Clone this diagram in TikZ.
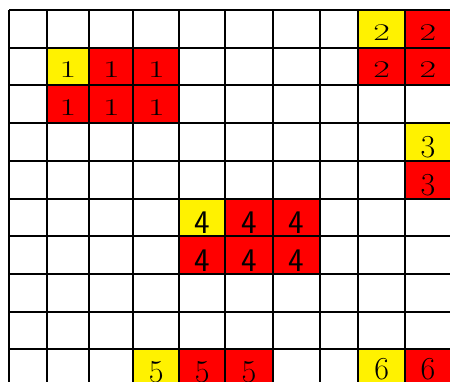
\documentclass[tikz,border=0pt]{standalone}
\usepackage{fontspec}
\usepackage{graphicx}
\usepackage{tikz}
\tikzset{
  cellY/.style={fill=yellow},
  cellR/.style={fill=red},
  gridline/.style={line width=2pt, black},
  numS/.style={anchor=base, inner sep=0pt, font=\fontsize{24}{24}\selectfont},
  numB/.style={anchor=base, inner sep=0pt, font=\fontsize{32}{32}\selectfont},
  numF/.style={anchor=base, inner sep=0pt, font=\sffamily\fontsize{33}{33}\selectfont},
}
\def\colx{{9,46.7,89.3,133.3,179.3,225,272.7,320,358.3,405,451}}
\def\rowy{{10,47.5,85,123,160.5,198.5,236,274,311.7,349,386.5}}
\newcommand{\wide}[1]{\scalebox{1.5}[1]{#1}}

\begin{document}
\begin{tikzpicture}[x=1pt, y=-1pt]
  \useasboundingbox (0,0) rectangle (450,381);
  \fill[white] (0,0) rectangle (450,381);
  \clip (0,0) rectangle (450,381);

  % coloured cells and their numbers
  \foreach \c/\r/\fc/\s/\d/\o [count=\i] in {
      1/1/cellY/numS/{\wide{1}}/7.7, 2/1/cellR/numS/{\wide{1}}/7.7, 3/1/cellR/numS/{\wide{1}}/7.7,
      1/2/cellR/numS/{\wide{1}}/7.7, 2/2/cellR/numS/{\wide{1}}/7.7, 3/2/cellR/numS/{\wide{1}}/7.7,
      8/0/cellY/numS/{\wide{2}}/7.5, 9/0/cellR/numS/{\wide{2}}/7.5,
      8/1/cellR/numS/{\wide{2}}/7.5, 9/1/cellR/numS/{\wide{2}}/7.5,
      9/3/cellY/numB/3/3.2, 9/4/cellR/numB/3/3.2,
      4/5/cellY/numF/4/2.7, 5/5/cellR/numF/4/2.7, 6/5/cellR/numF/4/2.7,
      4/6/cellR/numF/4/2.7, 5/6/cellR/numF/4/2.7, 6/6/cellR/numF/4/2.7,
      3/9/cellY/numB/5/3.8, 4/9/cellR/numB/5/3.8, 5/9/cellR/numB/5/3.8,
      8/9/cellY/numB/6/7, 9/9/cellR/numB/6/7}{
    \pgfmathsetmacro\xa{\colx[\c]}
    \pgfmathsetmacro\xb{\colx[\c+1]}
    \pgfmathsetmacro\ya{\rowy[\r]}
    \pgfmathsetmacro\yb{\rowy[\r+1]}
    \pgfmathsetmacro\xm{(\xa+\xb)/2}
    \pgfmathsetmacro\yl{\yb-\o}
    \fill[\fc] (\xa,\ya) rectangle (\xb,\yb);
    \node[\s] (n\i) at (\xm,\yl) {\d};
  }

  % grid
  \foreach \x in {9,46.7,89.3,133.3,179.3,225,272.7,320,358.3,405}
    \draw[gridline] (\x,10) -- (\x,390);
  \foreach \y in {10,47.5,85,123,160.5,198.5,236,274,311.7,349}
    \draw[gridline] (9,\y) -- (460,\y);
\end{tikzpicture}
\end{document}
